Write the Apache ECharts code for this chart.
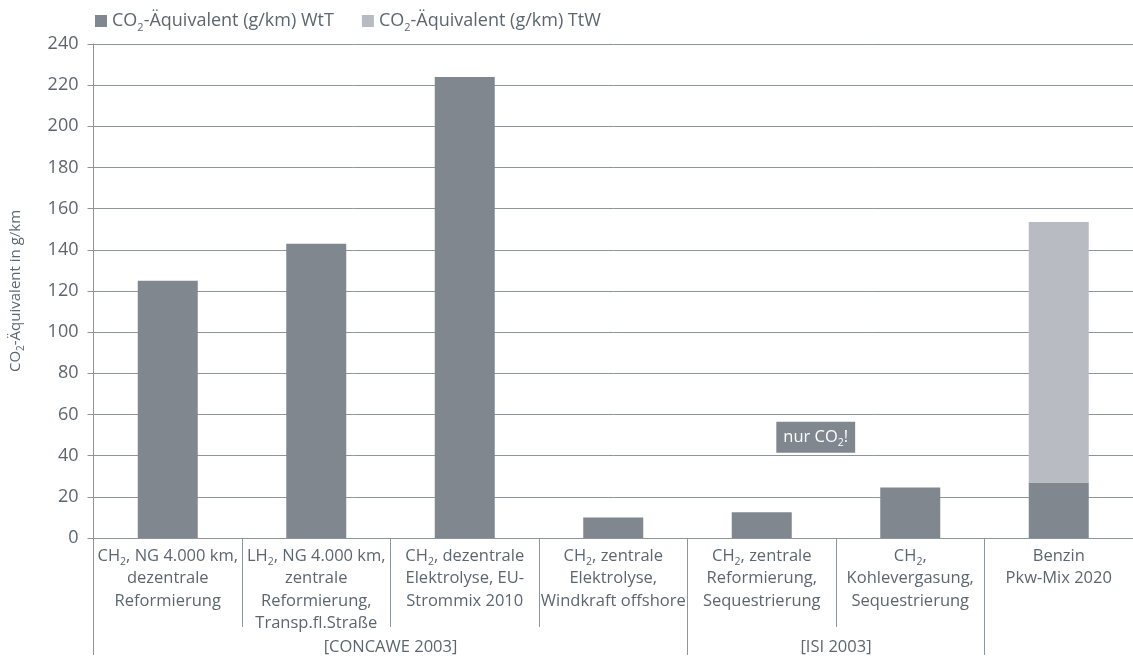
<!DOCTYPE html>
<html>
<head>
<meta charset="utf-8">
<script src="https://cdn.jsdelivr.net/npm/echarts@6/dist/echarts.min.js"></script>
<style>
  html, body { margin: 0; padding: 0; background: #fff; }
  #chart { width: 1133px; height: 659px; }
</style>
</head>
<body>
<div id="chart"></div>
<script>
// categories (rich text: {s|2} = subscript)
const categories = [
  "CH{s|2}, NG 4.000 km,\ndezentrale\nReformierung",
  "LH{s|2}, NG 4.000 km,\nzentrale\nReformierung,\nTransp.fl.Straße",
  "CH{s|2}, dezentrale\nElektrolyse, EU-\nStrommix 2010",
  "CH{s|2}, zentrale\nElektrolyse,\nWindkraft offshore",
  "CH{s|2}, zentrale\nReformierung,\nSequestrierung",
  "CH{s|2},\nKohlevergasung,\nSequestrierung",
  "Benzin\nPkw-Mix 2020"
];
const wttValues = [125, 143, 224, 10, 12.5, 24.5, 27];
const ttwValues = [0, 0, 0, 0, 0, 0, 126.5];
const groupLabels = ["[CONCAWE 2003]", "[ISI 2003]"];
const groupCenters = [2, 5];
const groupBounds = [0, 4, 6];
const yTicks = { min: 0, max: 240, interval: 20 };

const textColor = "#5d6670";
const lineColor = "#8e949c";
const darkGray = "#80878f";
const lightGray = "#b8bbc2";
const fontFamily = "Open Sans";

function subStyle(size, color, lh) {
  return { fontSize: size, verticalAlign: "bottom", lineHeight: lh || 22, color, fontFamily };
}

const chart = echarts.init(document.getElementById("chart"));
chart.setOption({
  animation: false,
  textStyle: { fontFamily, color: textColor },
  legend: {
    left: 90,
    top: 7,
    itemWidth: 12,
    itemHeight: 12,
    itemGap: 28,
    icon: "rect",
    textStyle: {
      fontSize: 18,
      color: textColor,
      fontFamily,
      rich: { s: subStyle(11, textColor, 24) }
    },
    formatter: name => name.replace("CO2", "CO{s|2}")
  },
  grid: { left: 91, right: 0, top: 44, bottom: 121, containLabel: false },
  xAxis: [
    {
      type: "category",
      data: categories,
      axisLine: { lineStyle: { color: lineColor, width: 1 } },
      axisTick: { show: true, interval: 0, length: 89, lineStyle: { color: lineColor } },
      axisLabel: {
        interval: 0,
        margin: 7,
        fontSize: 16.5,
        lineHeight: 22.5,
        color: textColor,
        fontFamily,
        rich: { s: subStyle(10.5, textColor, 22.5) }
      }
    },
    {
      type: "value",
      position: "bottom",
      min: 0,
      max: 7,
      axisLine: { show: false },
      splitLine: { show: false },
      axisTick: {
        show: true,
        length: 117,
        customValues: groupBounds,
        lineStyle: { color: lineColor }
      },
      axisLabel: {
        margin: 101,
        fontSize: 16.5,
        color: textColor,
        fontFamily,
        customValues: groupCenters,
        formatter: v => groupLabels[groupCenters.indexOf(v)] || ""
      }
    }
  ],
  yAxis: {
    type: "value",
    min: yTicks.min,
    max: yTicks.max,
    interval: yTicks.interval,
    name: "CO{s|2}-Äquivalent in g/km",
    nameLocation: "middle",
    nameGap: 67,
    nameRotate: 90,
    nameTextStyle: {
      fontSize: 15,
      color: textColor,
      fontFamily,
      rich: { s: subStyle(10, textColor, 22) }
    },
    axisLine: { show: true, lineStyle: { color: lineColor, width: 1 } },
    axisTick: { show: true, length: 6, lineStyle: { color: lineColor } },
    axisLabel: { fontSize: 18, margin: 15, color: textColor, fontFamily },
    splitLine: { lineStyle: { color: lineColor, width: 1 } }
  },
  series: [
    {
      name: "CO2-Äquivalent (g/km) WtT",
      type: "bar",
      stack: "total",
      barWidth: 60,
      itemStyle: { color: darkGray },
      data: wttValues,
      markPoint: {
        symbol: "rect",
        symbolSize: 0,
        data: [{ coord: [4, 49], value: "nur CO2!" }],
        label: {
          show: true,
          position: "inside",
          offset: [54, 0],
          formatter: "nur CO{w|2}!",
          color: "#fff",
          fontSize: 16.5,
          fontFamily,
          backgroundColor: darkGray,
          padding: [5, 7, 4, 7],
          rich: { w: subStyle(10.5, "#fff") }
        }
      }
    },
    {
      name: "CO2-Äquivalent (g/km) TtW",
      type: "bar",
      stack: "total",
      barWidth: 60,
      itemStyle: { color: lightGray },
      data: ttwValues
    }
  ]
});
</script>
</body>
</html>
